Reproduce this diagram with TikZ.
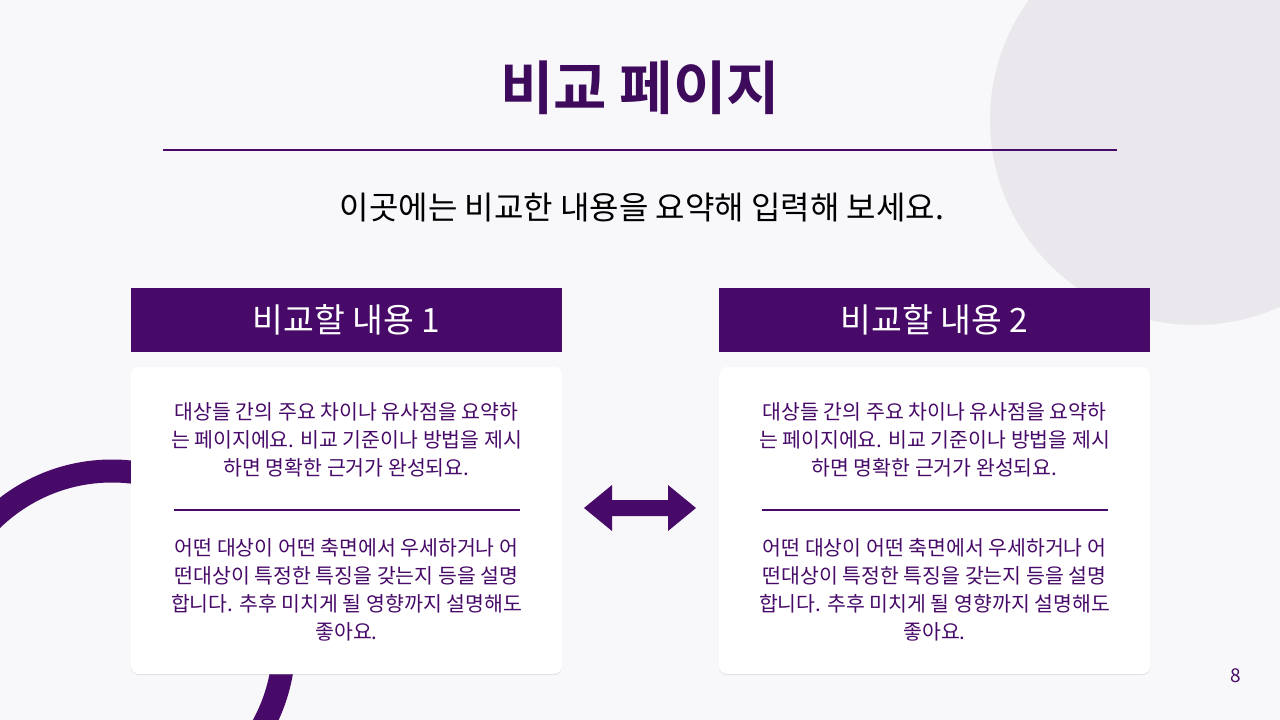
\documentclass[tikz,border=0pt]{standalone}
\usepackage{fontspec}
\setmainfont{Noto Sans CJK KR}
\newfontfamily\krb{Noto Sans CJK KR Bold}
\usetikzlibrary{shadows}
\definecolor{bg}{HTML}{F8F7FA}
\definecolor{pur}{HTML}{470A68}
\definecolor{dpur}{HTML}{3D0A5C}
\definecolor{circ}{HTML}{EAE8EC}
\tikzset{
 hdr/.style={fill=pur,minimum width=431pt,minimum height=64pt,text=white,font=\fontsize{33.5}{38}\selectfont,inner sep=0},
 card/.style={fill=white,rounded corners=8pt,minimum width=431pt,minimum height=307pt,drop shadow={shadow xshift=0pt,shadow yshift=-1pt,opacity=0.25,fill=black!40}},
 body/.style={text=pur,align=center,font=\fontsize{20.5}{28}\selectfont,inner sep=0}
}
\begin{document}
\begin{tikzpicture}[x=1pt,y=-1pt]
\fill[bg] (0,0) rectangle (1280,720);
\useasboundingbox (0,0) rectangle (1280,720);
\begin{scope}
\clip (0,0) rectangle (1280,720);
\fill[circ] (1195,120) circle (205);
\draw[pur,line width=23pt] (112,643) circle (172);
\end{scope}
\node[text=dpur,font=\krb\fontsize{58}{62}\selectfont] (title) at (640,88) {비교 페이지};
\draw[pur,line width=2pt] (163,150) -- (1117,150);
\node[font=\fontsize{32}{36}\selectfont] (sub) at (642,208) {이곳에는 비교한 내용을 요약해 입력해 보세요.};
\foreach \i/\cx in {1/346.5,2/934.5}{
 \node[hdr] (h\i) at (\cx,320) {비교할 내용 \i};
 \node[card] (c\i) at (\cx,520.5) {};
 \node[body] (t\i) at (\cx,440) {대상들 간의 주요 차이나 유사점을 요약하\\는 페이지에요. 비교 기준이나 방법을 제시\\하면 명확한 근거가 완성되요.};
 \draw[pur,line width=1.5pt] (\cx-173,510) -- (\cx+173,510);
 \node[body] (b\i) at (\cx,590) {어떤 대상이 어떤 축면에서 우세하거나 어\\떤대상이 특정한 특징을 갖는지 등을 설명\\합니다. 추후 미치게 될 영향까지 설명해도\\좋아요.};
}
\coordinate (arr) at (640,508);
\fill[pur] (584,508) -- (612,485) -- (612,500) -- (668,500) -- (668,485) -- (696,508) -- (668,531) -- (668,516) -- (612,516) -- (612,531) -- cycle;
\node[text=pur,font=\fontsize{19}{21}\selectfont] (pg) at (1236,676) {8};
\end{tikzpicture}
\end{document}
